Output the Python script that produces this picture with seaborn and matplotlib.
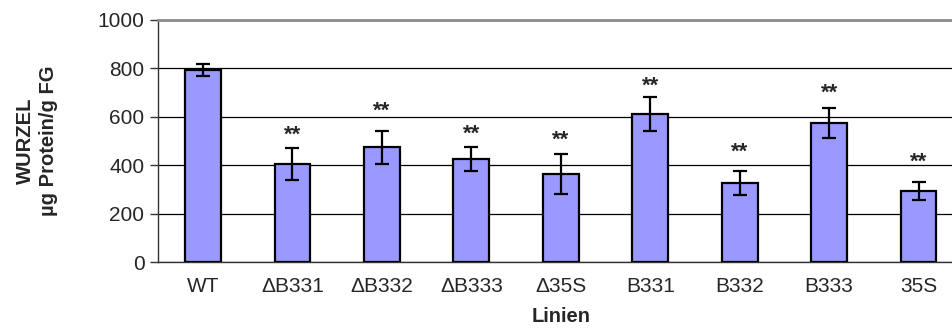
import matplotlib
matplotlib.use("Agg")
import matplotlib.pyplot as plt
import seaborn as sns
import pandas as pd
import numpy as np

categories = ["WT", "\u0394B331", "\u0394B332", "\u0394B333", "\u039435S", "B331", "B332", "B333", "35S"]
values = [794, 405, 474, 427, 363, 612, 327, 573, 294]
errors = [26, 67, 67, 50, 83, 69, 49, 62, 37]
marks = ["", "**", "**", "**", "**", "**", "**", "**", "**"]
mark_heights = [0, 539, 635, 543, 518, 739, 467, 709, 424]
yticks = [0, 200, 400, 600, 800, 1000]

sns.set_style("white")
plt.rcParams['font.family'] = ['Liberation Sans', 'DejaVu Sans']

df = pd.DataFrame({"Linie": categories, "Wert": values})

fig = plt.figure(figsize=(9.53, 3.29), dpi=100)
ax = fig.add_axes([158.3 / 953, (329 - 262) / 329, 805 / 953, 242 / 329])

sns.barplot(data=df, x="Linie", y="Wert", color="#9999FF", width=0.40,
            edgecolor="black", linewidth=1.6, errorbar=None, saturation=1, ax=ax, zorder=3)
for p in ax.patches:
    p.set_facecolor("#9999FF")

ax.errorbar(np.arange(len(categories)), values, yerr=errors, fmt="none",
            ecolor="black", elinewidth=1.6, capsize=5, capthick=1.6, zorder=4)

star_fs = 16
for i, (h, m) in enumerate(zip(mark_heights, marks)):
    if m:
        ax.annotate(m, xy=(i, h), xytext=(0, -0.39 * star_fs), textcoords="offset points",
                    ha="center", va="baseline", fontsize=star_fs, fontweight="bold", zorder=5)

ax.set_xlim(-0.5, len(categories) - 0.5)
ax.set_ylim(0, 1000)
ax.set_yticks(yticks)
ax.set_yticklabels([str(t) for t in yticks], fontsize=15)
ax.yaxis.grid(True, color="black", linewidth=0.9, zorder=0)
ax.set_axisbelow(True)

ax.set_xticks(np.arange(len(categories)))
ax.set_xticklabels(categories, fontsize=15)
ax.set_xticks(np.arange(len(categories) + 1) - 0.5, minor=True)
ax.tick_params(axis="x", which="major", length=0, pad=11)
ax.tick_params(axis="x", which="minor", length=5, width=1, color="#333333", direction="out")
ax.tick_params(axis="y", which="major", length=6, width=1, color="#333333", direction="out", pad=4, left=True)

for s in ["left", "bottom"]:
    ax.spines[s].set_color("#333333")
    ax.spines[s].set_linewidth(1.0)
ax.spines["top"].set_color("#8c8c8c")
ax.spines["top"].set_linewidth(2)
ax.spines["right"].set_visible(False)

ax.set_xlabel("")
ax.set_ylabel("")
fig.text(0.5 * (158.3 + 963) / 953, 1 - 317 / 329, "Linien", ha="center", va="center",
         fontsize=14.5, fontweight="bold")
fig.text(37 / 953, 1 - 141 / 329, "WURZEL\n\u00b5g Protein/g FG", ha="center", va="center",
         rotation=90, fontsize=14.5, fontweight="bold", multialignment="center", linespacing=1.25)

fig.savefig("out.png", dpi=100)
